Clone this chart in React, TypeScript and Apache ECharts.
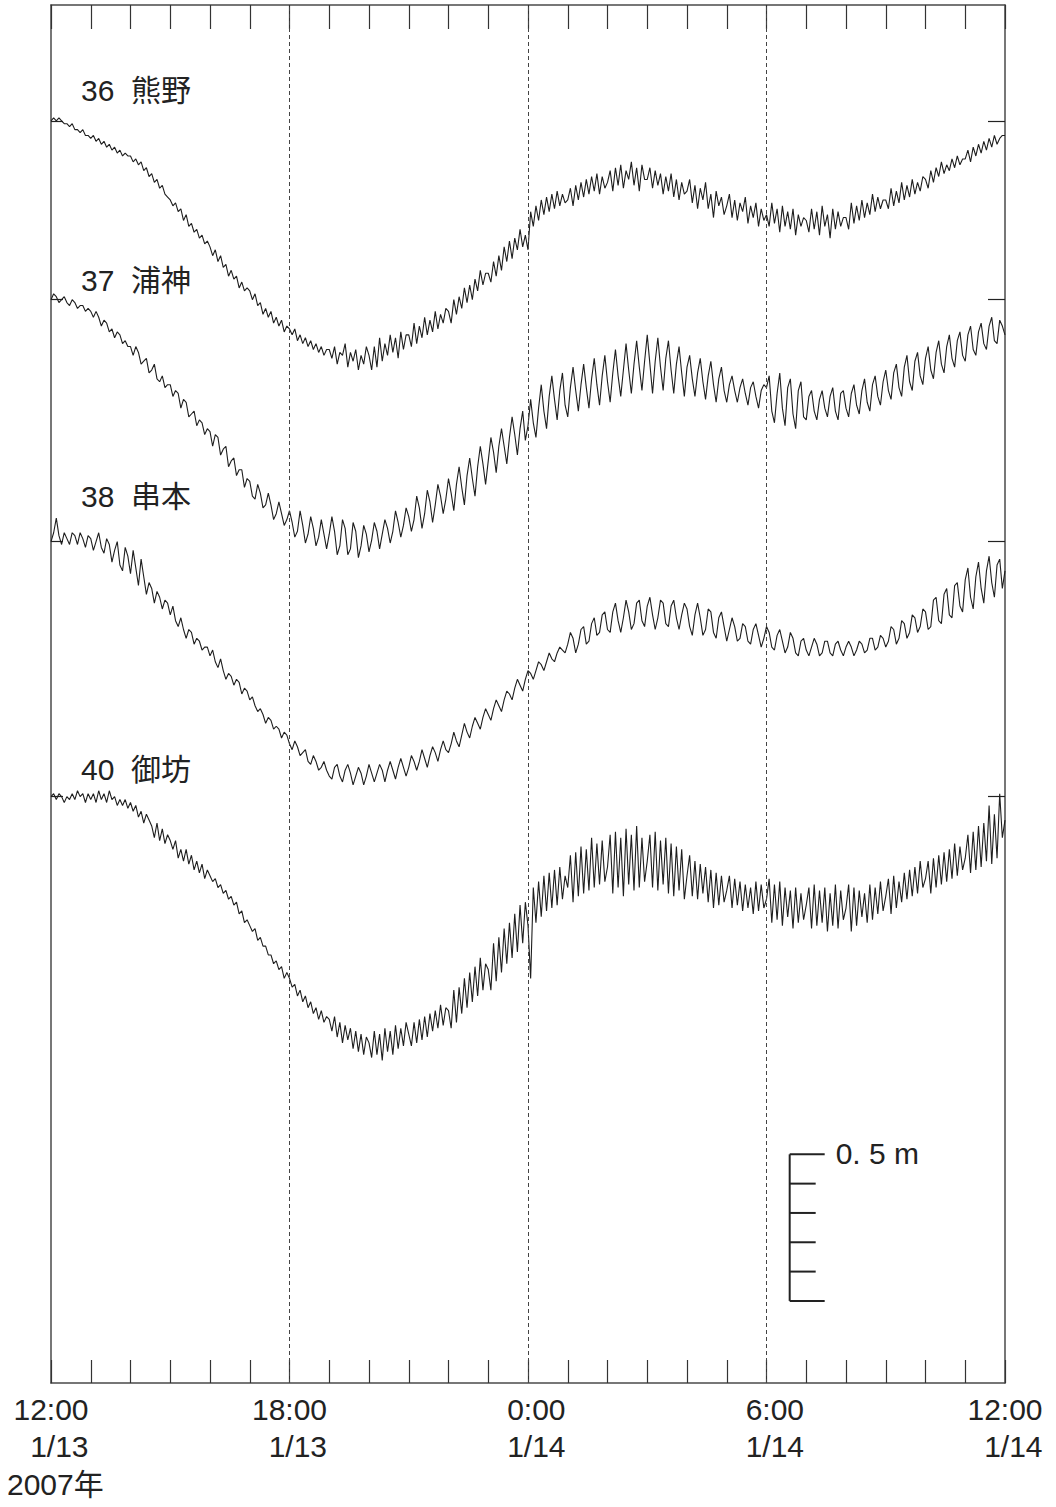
import React, { useEffect, useRef } from "react";
import * as echarts from "echarts";

// ---- axis / label text ----
const STEP_MIN = 4; // sampling interval of the readings (minutes)
const hourTicks = [0, 6, 12, 18, 24];
const timeLabels = ["12:00", "18:00", "\u20070:00", "\u20076:00", "12:00"];
const dateLabels = ["\u20071/13", "\u20071/13", "\u20071/14", "\u20071/14", "\u20071/14"];
const yearLabel = "2007年";
const stationNames = ["36  熊野", "37  浦神", "38  串本", "40  御坊"];
// reference level of each trace on the stacked (cm) axis
const stationBase = [430.5, 369.5, 287, 200];
const scaleBarFrom = 28;
const scaleBarTo = 78;
const scaleBarStep = 10;
const scaleBarLabel = "0. 5 m";
const SCALE_BAR_AT_MIN = 1115;

// ---- readings: water level (cm) relative to reference level, one row per hour, every 4 min ----
const kumanoRows = [
  [0, 1, 0, 1, 0, -1, -1, -2, -1, -3, -3, -4, -3, -5, -5],
  [-6, -5, -7, -6, -8, -7, -9, -8, -10, -9, -11, -10, -12, -11, -12],
  [-12, -14, -13, -15, -14, -17, -16, -19, -18, -21, -20, -23, -22, -25, -26],
  [-27, -29, -28, -31, -30, -34, -32, -36, -35, -38, -37, -40, -39, -42, -41],
  [-43, -46, -44, -48, -46, -50, -49, -53, -51, -54, -53, -57, -55, -58, -57],
  [-58, -61, -59, -63, -62, -66, -64, -67, -65, -69, -67, -70, -68, -72, -70],
  [-71, -73, -71, -75, -73, -76, -74, -77, -75, -78, -76, -79, -77, -80, -78],
  [-78, -81, -77, -83, -79, -80, -76, -84, -79, -82, -78, -85, -80, -83, -77],
  [-80, -85, -77, -84, -74, -82, -76, -80, -73, -79, -74, -81, -72, -78, -73],
  [-73, -77, -69, -76, -70, -74, -67, -73, -68, -72, -65, -71, -66, -69, -64],
  [-65, -69, -61, -66, -60, -64, -57, -62, -56, -61, -54, -58, -51, -56, -52],
  [-52, -55, -48, -53, -46, -51, -43, -48, -41, -47, -40, -44, -37, -43, -39],
  [-44, -31, -36, -29, -34, -27, -32, -26, -31, -25, -30, -24, -29, -25, -28],
  [-27, -23, -29, -22, -27, -21, -26, -20, -25, -19, -24, -18, -25, -19, -23],
  [-21, -17, -24, -16, -22, -15, -23, -17, -20, -14, -22, -16, -24, -15, -20],
  [-20, -16, -23, -17, -22, -18, -25, -19, -24, -18, -26, -20, -27, -21, -25],
  [-24, -20, -28, -22, -30, -23, -27, -21, -30, -25, -33, -24, -29, -26, -32],
  [-29, -25, -33, -27, -34, -28, -31, -26, -35, -29, -33, -28, -36, -30, -34],
  [-32, -36, -28, -35, -30, -38, -29, -36, -31, -37, -30, -39, -32, -36, -33],
  [-34, -38, -30, -37, -31, -39, -29, -36, -32, -40, -30, -37, -31, -36, -33],
  [-33, -37, -28, -35, -29, -34, -27, -33, -28, -32, -25, -31, -26, -30, -27],
  [-27, -30, -23, -29, -24, -28, -21, -27, -22, -26, -20, -25, -21, -24, -19],
  [-20, -23, -17, -21, -16, -19, -14, -18, -15, -17, -13, -16, -12, -15, -13],
  [-13, -10, -14, -9, -12, -8, -11, -7, -10, -6, -9, -5, -8, -6, -5],
  [-5],
];

const uragamiRows = [
  [0, 2, 1, -1, 0, 1, -1, -2, 0, -1, -3, -2, -2, -4, -3],
  [-4, -6, -4, -6, -9, -7, -8, -11, -10, -13, -11, -12, -15, -14, -16],
  [-16, -19, -16, -18, -22, -21, -20, -25, -24, -22, -27, -28, -26, -30, -29],
  [-29, -33, -31, -32, -37, -34, -35, -40, -39, -38, -43, -41, -42, -46, -44],
  [-45, -50, -46, -47, -53, -51, -50, -57, -55, -54, -60, -58, -58, -64, -61],
  [-62, -67, -68, -63, -66, -71, -70, -66, -70, -75, -73, -69, -73, -77, -75],
  [-72, -76, -81, -79, -72, -77, -83, -80, -74, -78, -84, -81, -75, -80, -85],
  [-80, -74, -79, -87, -84, -75, -78, -87, -85, -76, -79, -88, -84, -77, -80],
  [-86, -82, -76, -79, -85, -80, -75, -78, -83, -79, -72, -76, -81, -77, -71],
  [-74, -79, -75, -67, -71, -78, -73, -65, -69, -76, -70, -63, -67, -73, -68],
  [-61, -66, -72, -63, -57, -64, -70, -60, -54, -61, -67, -57, -50, -56, -63],
  [-55, -47, -52, -59, -50, -44, -50, -56, -47, -40, -46, -53, -44, -38, -48],
  [-43, -34, -42, -47, -37, -29, -38, -44, -33, -26, -34, -41, -31, -25, -36],
  [-40, -30, -23, -31, -38, -29, -22, -30, -37, -27, -20, -29, -36, -26, -19],
  [-28, -35, -25, -17, -26, -33, -24, -15, -24, -32, -22, -14, -23, -31, -21],
  [-12, -22, -32, -21, -13, -23, -31, -20, -14, -24, -32, -22, -16, -25, -33],
  [-23, -19, -27, -33, -25, -20, -28, -34, -26, -21, -29, -35, -27, -23, -31],
  [-35, -29, -26, -31, -35, -30, -27, -32, -36, -30, -28, -33, -37, -31, -29],
  [-30, -26, -38, -42, -32, -25, -37, -43, -30, -27, -39, -44, -31, -28, -40],
  [-41, -33, -31, -38, -41, -34, -31, -37, -40, -33, -30, -38, -41, -32, -31],
  [-37, -40, -32, -29, -36, -39, -31, -27, -35, -38, -29, -26, -33, -36, -28],
  [-24, -31, -34, -25, -22, -30, -33, -23, -19, -28, -31, -21, -18, -26, -29],
  [-20, -16, -24, -27, -18, -14, -22, -25, -16, -12, -20, -23, -14, -11, -19],
  [-21, -12, -9, -17, -19, -11, -8, -15, -17, -9, -6, -14, -15, -7, -9],
  [-12],
];

const kushimotoRows = [
  [0, 3, 8, 2, -1, 3, 1, -1, 3, 2, -1, 3, 1, -2, 2],
  [1, -3, 0, 3, -2, -4, 1, -1, -7, -3, 0, -8, -10, -2, -5],
  [-11, -3, -9, -15, -6, -12, -18, -14, -16, -21, -17, -19, -23, -20, -21],
  [-25, -22, -27, -29, -26, -30, -33, -30, -31, -35, -33, -34, -37, -36, -36],
  [-39, -37, -41, -43, -40, -44, -47, -45, -46, -49, -47, -48, -52, -50, -51],
  [-54, -53, -56, -58, -57, -59, -62, -60, -61, -64, -63, -64, -67, -65, -66],
  [-69, -71, -68, -70, -73, -72, -71, -75, -76, -73, -75, -78, -77, -75, -78],
  [-80, -81, -77, -76, -80, -82, -78, -76, -79, -83, -80, -77, -79, -83, -80],
  [-76, -79, -82, -79, -76, -78, -82, -78, -75, -78, -81, -77, -74, -77, -80],
  [-77, -73, -75, -78, -75, -71, -74, -77, -73, -70, -72, -75, -71, -68, -71],
  [-72, -69, -65, -68, -70, -66, -62, -65, -67, -63, -60, -62, -64, -60, -57],
  [-59, -61, -57, -54, -56, -58, -54, -51, -52, -54, -50, -47, -49, -51, -47],
  [-44, -45, -47, -44, -41, -42, -44, -41, -38, -40, -41, -38, -36, -37, -38],
  [-35, -31, -33, -38, -35, -30, -29, -35, -34, -28, -26, -32, -31, -25, -24],
  [-30, -31, -24, -21, -27, -31, -26, -20, -24, -30, -28, -21, -20, -27, -29],
  [-22, -19, -25, -30, -26, -20, -21, -28, -29, -22, -20, -26, -30, -25, -21],
  [-23, -29, -32, -25, -21, -26, -32, -30, -23, -24, -31, -33, -26, -24, -29],
  [-34, -30, -26, -29, -34, -33, -28, -29, -34, -35, -30, -28, -32, -36, -33],
  [-29, -31, -36, -37, -32, -30, -34, -38, -36, -31, -33, -38, -39, -34, -33],
  [-37, -39, -36, -33, -35, -39, -38, -34, -34, -38, -39, -35, -34, -37, -39],
  [-36, -34, -36, -39, -37, -34, -35, -38, -37, -33, -33, -37, -36, -32, -33],
  [-36, -34, -29, -30, -35, -33, -27, -28, -33, -31, -25, -26, -31, -29, -23],
  [-24, -30, -29, -20, -19, -27, -28, -18, -16, -25, -26, -15, -14, -22, -24],
  [-13, -9, -19, -23, -12, -7, -16, -21, -10, -5, -14, -19, -8, -6, -16],
  [-10],
];

const gobouRows = [
  [0, 1, -1, 1, 0, -2, 0, -1, 1, -1, 2, 0, 1, -2, 1],
  [-1, 1, -2, 2, -1, 1, -2, 2, -1, 0, -3, -1, -3, -1, -4],
  [-2, -5, -3, -7, -5, -9, -6, -8, -10, -14, -9, -15, -11, -16, -13],
  [-15, -18, -15, -21, -18, -22, -18, -23, -20, -25, -22, -26, -23, -28, -25],
  [-27, -29, -28, -31, -30, -33, -32, -35, -34, -37, -36, -40, -39, -43, -42],
  [-44, -46, -45, -49, -48, -51, -51, -54, -54, -57, -56, -59, -58, -62, -60],
  [-62, -65, -64, -68, -66, -70, -68, -72, -70, -74, -72, -76, -73, -77, -75],
  [-76, -80, -75, -82, -77, -84, -78, -83, -79, -86, -80, -87, -81, -88, -82],
  [-84, -89, -80, -88, -81, -90, -79, -87, -80, -88, -78, -86, -79, -85, -77],
  [-81, -85, -77, -84, -76, -83, -75, -82, -74, -80, -73, -79, -71, -78, -72],
  [-73, -79, -66, -77, -65, -74, -62, -72, -60, -70, -58, -68, -55, -66, -57],
  [-59, -66, -50, -63, -48, -60, -45, -57, -43, -55, -40, -53, -37, -50, -36],
  [-44, -62, -31, -43, -29, -41, -27, -39, -26, -38, -25, -37, -24, -35, -27],
  [-31, -20, -36, -19, -34, -17, -33, -18, -32, -14, -31, -16, -30, -15, -29],
  [-24, -13, -33, -12, -31, -14, -34, -11, -30, -13, -32, -10, -31, -14, -29],
  [-22, -13, -31, -12, -32, -15, -30, -14, -33, -16, -34, -17, -32, -18, -35],
  [-27, -20, -34, -22, -35, -23, -33, -24, -36, -25, -38, -26, -37, -27, -36],
  [-32, -27, -38, -28, -37, -29, -39, -30, -38, -31, -40, -29, -39, -30, -38],
  [-35, -28, -43, -30, -42, -29, -44, -31, -41, -32, -45, -31, -43, -33, -42],
  [-37, -31, -45, -30, -44, -32, -43, -31, -46, -33, -44, -30, -45, -32, -42],
  [-38, -30, -46, -31, -44, -32, -41, -33, -43, -30, -42, -31, -40, -29, -39],
  [-34, -28, -40, -27, -38, -29, -36, -26, -35, -25, -34, -24, -33, -22, -31],
  [-28, -22, -33, -21, -31, -20, -30, -19, -29, -18, -28, -16, -27, -17, -25],
  [-21, -13, -26, -12, -25, -10, -24, -9, -22, -3, -23, -6, -21, 1, -14],
  [-8],
];

const stationRows = [kumanoRows, uragamiRows, kushimotoRows, gobouRows];

const FONT = "'Liberation Sans', 'Noto Sans CJK JP', sans-serif";
const INK = "#1e1e1e";
const FRAME = "#4a4a4a";

function toPoints(rows: number[][], base: number) {
  const flat = rows.flat();
  return flat.map((v, i) => [i * STEP_MIN, base + v]);
}

export default function App() {
  const ref = useRef<HTMLDivElement | null>(null);

  useEffect(() => {
    if (!ref.current) return;
    const chart = echarts.init(ref.current, null, { renderer: "svg" });

    const traceSeries = stationRows.map((rows, i) => {
      const s: any = {
        type: "line",
        name: stationNames[i],
        data: toPoints(rows, stationBase[i]),
        showSymbol: false,
        symbol: "none",
        silent: true,
        z: 3,
        lineStyle: { color: INK, width: 1.1 },
      };
      if (i === 0) {
        s.markLine = {
          silent: true,
          symbol: ["none", "none"],
          label: { show: false },
          lineStyle: { color: "#444", width: 1, type: [4, 3] },
          data: [6, 12, 18].map((h) => ({ xAxis: h * 60 })),
        };
      }
      return s;
    });

    const scaleSeries: any = {
      type: "custom",
      xAxisIndex: 0,
      yAxisIndex: 0,
      clip: false,
      silent: true,
      z: 4,
      data: [[SCALE_BAR_AT_MIN, scaleBarFrom]],
      renderItem: (_params: any, api: any) => {
        const x = api.value(0);
        const top = api.coord([x, scaleBarTo]);
        const bot = api.coord([x, scaleBarFrom]);
        const children: any[] = [
          {
            type: "line",
            shape: { x1: top[0], y1: top[1], x2: bot[0], y2: bot[1] },
            style: { stroke: "#222", lineWidth: 2 },
          },
        ];
        for (let v = scaleBarFrom; v <= scaleBarTo + 0.01; v += scaleBarStep) {
          const p = api.coord([x, v]);
          const isEnd = Math.abs(v - scaleBarFrom) < 0.01 || Math.abs(v - scaleBarTo) < 0.01;
          children.push({
            type: "line",
            shape: { x1: p[0], y1: p[1], x2: p[0] + (isEnd ? 35 : 26), y2: p[1] },
            style: { stroke: "#222", lineWidth: 2 },
          });
        }
        children.push({
          type: "text",
          x: top[0] + 46,
          y: top[1] - 1,
          style: {
            text: scaleBarLabel,
            fontSize: 30,
            fontFamily: FONT,
            fill: "#222",
            align: "left",
            verticalAlign: "middle",
          },
        });
        return { type: "group", children };
      },
    };

    const labelTops = [90, 280, 496, 769];

    const xBase = {
      type: "value",
      min: 0,
      max: 1440,
      interval: 60,
      splitLine: { show: false },
    };
    const yBase = {
      type: "value",
      min: 0,
      max: 470,
      axisLabel: { show: false },
      splitLine: { show: false },
    };

    const option: any = {
      animation: false,
      backgroundColor: "#ffffff",
      grid: { left: 51, right: 51, top: 5, bottom: 124, containLabel: false },
      xAxis: [
        {
          ...xBase,
          position: "bottom",
          axisLine: { show: true, onZero: false, lineStyle: { color: FRAME, width: 1.5 } },
          axisTick: { show: true, inside: true, length: 23, lineStyle: { color: "#333", width: 1.2 } },
          axisLabel: {
            show: true,
            margin: 8,
            fontSize: 30,
            lineHeight: 37,
            color: "#222",
            fontFamily: FONT,
            showMinLabel: true,
            showMaxLabel: true,
            formatter: (v: number) => {
              const i = hourTicks.indexOf(v / 60);
              return i >= 0 ? timeLabels[i] + "\n" + dateLabels[i] : "";
            },
          },
        },
        {
          ...xBase,
          position: "top",
          axisLine: { show: true, onZero: false, lineStyle: { color: FRAME, width: 1.5 } },
          axisTick: { show: true, inside: true, length: 24, lineStyle: { color: "#333", width: 1.2 } },
          axisLabel: { show: false },
        },
      ],
      yAxis: [
        {
          ...yBase,
          position: "left",
          axisLine: { show: true, onZero: false, lineStyle: { color: FRAME, width: 1.5 } },
          axisTick: {
            show: true,
            inside: true,
            length: 12,
            customValues: stationBase,
            lineStyle: { color: "#222", width: 1.2 },
          },
        },
        {
          ...yBase,
          position: "right",
          axisLine: { show: true, onZero: false, lineStyle: { color: FRAME, width: 1.5 } },
          axisTick: {
            show: true,
            inside: true,
            length: 17,
            customValues: stationBase,
            lineStyle: { color: "#222", width: 1.2 },
          },
        },
      ],
      graphic: [
        ...stationNames.map((name, i) => ({
          type: "text",
          x: 81,
          y: labelTops[i],
          silent: true,
          style: {
            text: name,
            fontSize: 30,
            fontFamily: FONT,
            fill: "#222",
            align: "left",
            verticalAlign: "middle",
          },
        })),
        {
          type: "text",
          x: 7,
          y: 1484,
          silent: true,
          style: {
            text: yearLabel,
            fontSize: 30,
            fontFamily: FONT,
            fill: "#222",
            align: "left",
            verticalAlign: "middle",
          },
        },
      ],
      series: [...traceSeries, scaleSeries],
    };

    chart.setOption(option);
    return () => chart.dispose();
  }, []);

  return (
    <div
      ref={ref}
      style={{ position: "absolute", left: 0, top: 0, width: 1056, height: 1507, background: "#fff" }}
    />
  );
}
